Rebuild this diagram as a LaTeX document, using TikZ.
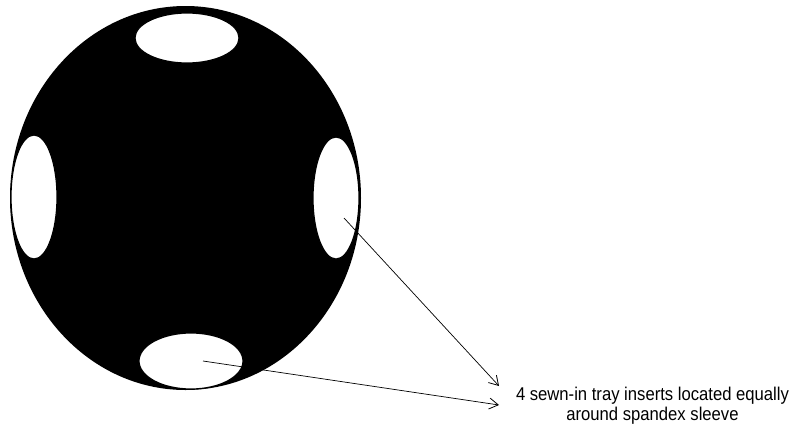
\documentclass[tikz,border=0pt]{standalone}
\usepackage{fontspec}
\setmainfont{Liberation Sans}[FakeStretch=0.9]
\usetikzlibrary{arrows.meta,shapes.geometric}
\begin{document}
\begin{tikzpicture}[x=1pt,y=-1pt,
  hole/.style={fill=white,draw=black,line width=1.2pt},
  pointer/.style={draw=black,line width=0.7pt,-{Straight Barb[length=9pt,width=11pt,line width=0.8pt]}},
  label/.style={align=center,inner sep=0pt,font=\fontsize{18.5}{20}\selectfont}]
\useasboundingbox (0,0) rectangle (798,437);
\fill[black] (185.5,198) ellipse [x radius=175.5, y radius=192];
\draw[hole] (187,38) ellipse [x radius=52, y radius=25];
\draw[hole] (34,197) ellipse [x radius=23, y radius=62];
\draw[hole] (336,198) ellipse [x radius=23, y radius=61];
\draw[hole] (191,361) ellipse [x radius=52, y radius=28];
\coordinate (s1) at (344,218);
\coordinate (s2) at (203,361);
\node[label] (txt) at (652.5,405.5) {4 sewn-in tray inserts located equally\\around spandex sleeve};
\coordinate (e1) at (499,386);
\coordinate (e2) at (499,405);
\draw[pointer] (s1) -- (e1);
\draw[pointer] (s2) -- (e2);
\end{tikzpicture}
\end{document}
